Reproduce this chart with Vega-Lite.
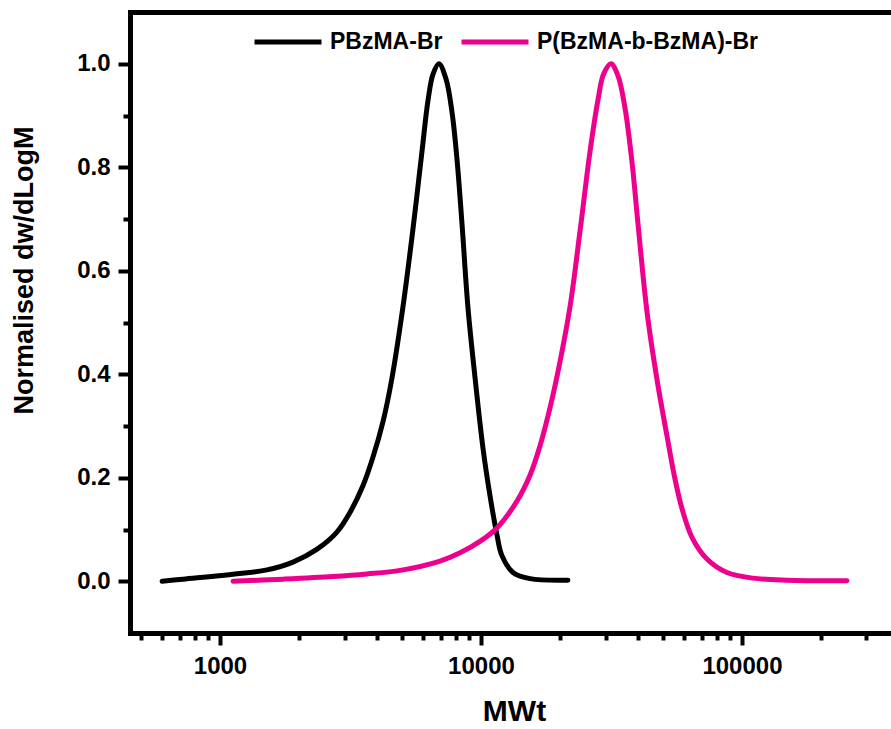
{
  "$schema": "https://vega.github.io/schema/vega-lite/v6.json",
  "width": 761,
  "height": 621,
  "autosize": {"type": "none"},
  "padding": {"left": 130, "top": 12, "right": 0, "bottom": 96},
  "background": "white",
  "config": {
    "view": {"stroke": null},
    "font": "Liberation Sans",
    "axis": {"grid": false, "domainColor": "black", "tickColor": "black", "labelColor": "black", "titleColor": "black", "labelFont": "Liberation Sans", "titleFont": "Liberation Sans", "labelFontWeight": "bold", "titleFontWeight": "bold", "domainWidth": 5, "tickWidth": 4, "domainCap": "square"}
  },
  "data": {
    "values": [
      {"s": "PBzMA-Br", "mw": 600, "v": 0.0},
      {"s": "PBzMA-Br", "mw": 722, "v": 0.004},
      {"s": "PBzMA-Br", "mw": 1122, "v": 0.0135},
      {"s": "PBzMA-Br", "mw": 1514, "v": 0.022},
      {"s": "PBzMA-Br", "mw": 1904, "v": 0.037},
      {"s": "PBzMA-Br", "mw": 2355, "v": 0.062},
      {"s": "PBzMA-Br", "mw": 2805, "v": 0.095},
      {"s": "PBzMA-Br", "mw": 3148, "v": 0.133},
      {"s": "PBzMA-Br", "mw": 3532, "v": 0.185},
      {"s": "PBzMA-Br", "mw": 3857, "v": 0.24},
      {"s": "PBzMA-Br", "mw": 4220, "v": 0.31},
      {"s": "PBzMA-Br", "mw": 4550, "v": 0.39},
      {"s": "PBzMA-Br", "mw": 5023, "v": 0.53},
      {"s": "PBzMA-Br", "mw": 5485, "v": 0.68},
      {"s": "PBzMA-Br", "mw": 5940, "v": 0.83},
      {"s": "PBzMA-Br", "mw": 6270, "v": 0.93},
      {"s": "PBzMA-Br", "mw": 6550, "v": 0.98},
      {"s": "PBzMA-Br", "mw": 6900, "v": 1.0},
      {"s": "PBzMA-Br", "mw": 7350, "v": 0.97},
      {"s": "PBzMA-Br", "mw": 7750, "v": 0.905},
      {"s": "PBzMA-Br", "mw": 8090, "v": 0.816},
      {"s": "PBzMA-Br", "mw": 8460, "v": 0.69},
      {"s": "PBzMA-Br", "mw": 8910, "v": 0.53},
      {"s": "PBzMA-Br", "mw": 9480, "v": 0.395},
      {"s": "PBzMA-Br", "mw": 10190, "v": 0.255},
      {"s": "PBzMA-Br", "mw": 10830, "v": 0.165},
      {"s": "PBzMA-Br", "mw": 11510, "v": 0.09},
      {"s": "PBzMA-Br", "mw": 12020, "v": 0.05},
      {"s": "PBzMA-Br", "mw": 13260, "v": 0.017},
      {"s": "PBzMA-Br", "mw": 15410, "v": 0.005},
      {"s": "PBzMA-Br", "mw": 21530, "v": 0.002},
      {"s": "P(BzMA-b-BzMA)-Br", "mw": 1122, "v": 0.0},
      {"s": "P(BzMA-b-BzMA)-Br", "mw": 1742, "v": 0.004},
      {"s": "P(BzMA-b-BzMA)-Br", "mw": 2710, "v": 0.009},
      {"s": "P(BzMA-b-BzMA)-Br", "mw": 3655, "v": 0.014},
      {"s": "P(BzMA-b-BzMA)-Br", "mw": 4900, "v": 0.021},
      {"s": "P(BzMA-b-BzMA)-Br", "mw": 6970, "v": 0.039},
      {"s": "P(BzMA-b-BzMA)-Br", "mw": 8320, "v": 0.055},
      {"s": "P(BzMA-b-BzMA)-Br", "mw": 9910, "v": 0.077},
      {"s": "P(BzMA-b-BzMA)-Br", "mw": 11610, "v": 0.105},
      {"s": "P(BzMA-b-BzMA)-Br", "mw": 13740, "v": 0.155},
      {"s": "P(BzMA-b-BzMA)-Br", "mw": 15410, "v": 0.205},
      {"s": "P(BzMA-b-BzMA)-Br", "mw": 16840, "v": 0.262},
      {"s": "P(BzMA-b-BzMA)-Br", "mw": 18380, "v": 0.335},
      {"s": "P(BzMA-b-BzMA)-Br", "mw": 20000, "v": 0.42},
      {"s": "P(BzMA-b-BzMA)-Br", "mw": 21930, "v": 0.53},
      {"s": "P(BzMA-b-BzMA)-Br", "mw": 23940, "v": 0.675},
      {"s": "P(BzMA-b-BzMA)-Br", "mw": 26160, "v": 0.83},
      {"s": "P(BzMA-b-BzMA)-Br", "mw": 28070, "v": 0.93},
      {"s": "P(BzMA-b-BzMA)-Br", "mw": 29500, "v": 0.98},
      {"s": "P(BzMA-b-BzMA)-Br", "mw": 31480, "v": 1.0},
      {"s": "P(BzMA-b-BzMA)-Br", "mw": 33480, "v": 0.977},
      {"s": "P(BzMA-b-BzMA)-Br", "mw": 35620, "v": 0.915},
      {"s": "P(BzMA-b-BzMA)-Br", "mw": 37900, "v": 0.81},
      {"s": "P(BzMA-b-BzMA)-Br", "mw": 39970, "v": 0.69},
      {"s": "P(BzMA-b-BzMA)-Br", "mw": 43280, "v": 0.52},
      {"s": "P(BzMA-b-BzMA)-Br", "mw": 47420, "v": 0.385},
      {"s": "P(BzMA-b-BzMA)-Br", "mw": 51640, "v": 0.28},
      {"s": "P(BzMA-b-BzMA)-Br", "mw": 55000, "v": 0.205},
      {"s": "P(BzMA-b-BzMA)-Br", "mw": 58940, "v": 0.14},
      {"s": "P(BzMA-b-BzMA)-Br", "mw": 64330, "v": 0.085},
      {"s": "P(BzMA-b-BzMA)-Br", "mw": 73400, "v": 0.043},
      {"s": "P(BzMA-b-BzMA)-Br", "mw": 87600, "v": 0.017},
      {"s": "P(BzMA-b-BzMA)-Br", "mw": 110200, "v": 0.006},
      {"s": "P(BzMA-b-BzMA)-Br", "mw": 148600, "v": 0.002},
      {"s": "P(BzMA-b-BzMA)-Br", "mw": 252400, "v": 0.001}
    ]
  },
  "layer": [
    {
      "mark": {"type": "line", "strokeWidth": 5, "strokeCap": "round", "strokeJoin": "round", "interpolate": "catmull-rom"},
      "encoding": {
        "x": {"field": "mw", "type": "quantitative",
          "scale": {"type": "log", "domain": [452, 372400], "nice": false},
          "axis": {"orient": "bottom", "values": [1000, 10000, 100000], "format": "d", "labelFontSize": 24, "tickSize": 12, "labelPadding": 9,
            "title": "MWt", "titleFontSize": 30, "titleX": 384, "titleY": 87, "titleBaseline": "alphabetic", "titleAlign": "center"}},
        "y": {"field": "v", "type": "quantitative",
          "scale": {"domain": [-0.1, 1.1], "nice": false, "zero": false},
          "axis": {"orient": "left", "values": [0, 0.2, 0.4, 0.6, 0.8, 1.0], "format": ".1f", "labelFontSize": 24, "tickSize": 12, "labelPadding": 8,
            "title": "Normalised dw/dLogM", "titleFontSize": 27, "titleAngle": 270, "titleX": -98, "titleY": 258, "titleBaseline": "alphabetic", "titleAlign": "center"}},
        "color": {"field": "s", "type": "nominal",
          "scale": {"domain": ["PBzMA-Br", "P(BzMA-b-BzMA)-Br"], "range": ["#000000", "#EC008C"]},
          "legend": {"orient": "none", "legendX": 122, "legendY": -6, "direction": "horizontal", "title": null,
            "symbolType": "stroke", "symbolSize": 4489, "symbolStrokeWidth": 5, "labelFont": "Liberation Sans", "labelFontWeight": "bold", "labelFontSize": 23, "labelColor": "black", "labelOffset": 6, "labelLimit": 500, "columnPadding": 8}}
      }
    },
    {
      "mark": {"type": "point", "opacity": 0},
      "encoding": {
        "x": {"field": "mw", "type": "quantitative",
          "scale": {"type": "log", "domain": [452, 372400], "nice": false},
          "axis": {"orient": "bottom", "values": [500, 600, 700, 800, 900, 2000, 3000, 4000, 5000, 6000, 7000, 8000, 9000, 20000, 30000, 40000, 50000, 60000, 70000, 80000, 90000, 200000, 300000], "labels": false, "domain": false, "tickSize": 7, "title": null}},
        "y": {"field": "v", "type": "quantitative",
          "scale": {"domain": [-0.1, 1.1], "nice": false, "zero": false},
          "axis": {"orient": "left", "values": [0.1, 0.3, 0.5, 0.7, 0.9], "labels": false, "domain": false, "tickSize": 7, "title": null}}
      }
    },
    {
      "mark": {"type": "point", "opacity": 0},
      "encoding": {
        "x": {"field": "mw", "type": "quantitative",
          "scale": {"type": "log", "domain": [452, 372400], "nice": false},
          "axis": {"orient": "top", "labels": false, "ticks": false, "title": null}},
        "y": {"field": "v", "type": "quantitative",
          "scale": {"domain": [-0.1, 1.1], "nice": false, "zero": false},
          "axis": null}
      }
    }
  ],
  "resolve": {"axis": {"x": "independent", "y": "independent"}}
}
